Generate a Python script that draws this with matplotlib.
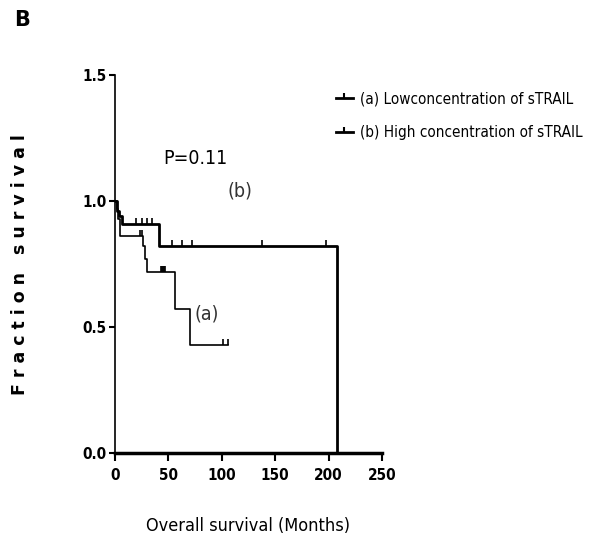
import matplotlib
matplotlib.use("Agg")
import matplotlib.pyplot as plt
from matplotlib.path import Path
from matplotlib.markers import MarkerStyle
from matplotlib.lines import Line2D
from matplotlib.legend_handler import HandlerTuple
from matplotlib import font_manager
from matplotlib.font_manager import FontProperties

# Kaplan-Meier step data (months, survival fraction)
a_times = [0, 2, 3, 5, 26.5, 28, 30, 56, 70, 106]
a_surv = [1.0, 0.97, 0.93, 0.86, 0.82, 0.77, 0.72, 0.57, 0.43, 0.43]
a_censor_t = [23, 25, 43, 44, 45, 46, 47, 101, 106]
a_censor_s = [0.86, 0.86, 0.72, 0.72, 0.72, 0.72, 0.72, 0.43, 0.43]

b_times = [0, 2, 4, 7, 41, 208, 208]
b_surv = [1.0, 0.96, 0.94, 0.91, 0.82, 0.82, 0.0]
b_censor_t = [20, 25, 30, 34.5, 53, 62.5, 72, 138, 198]
b_censor_s = [0.91, 0.91, 0.91, 0.91, 0.82, 0.82, 0.82, 0.82, 0.82]

labels = ["(a) Lowconcentration of sTRAIL", "(b) High concentration of sTRAIL"]
xticks = [0, 50, 100, 150, 200, 250]
yticks = [0.0, 0.5, 1.0, 1.5]

# find a condensed / narrow font if one is installed
reg_file, bold_file = None, None
for f in font_manager.fontManager.ttflist:
    nm = f.name + " " + str(f.fname)
    cond = ("Narrow" in nm) or ("Condensed" in nm) or (str(f.stretch) in ("condensed", "semi-condensed", "extra-condensed"))
    if cond and f.style == "normal":
        w = f.weight if isinstance(f.weight, int) else (700 if "bold" in str(f.weight) else 400)
        if w >= 600 and bold_file is None:
            bold_file = f.fname
        elif w < 600 and reg_file is None:
            reg_file = f.fname


def fp(size, bold=False):
    fn = bold_file if (bold and bold_file) else reg_file
    if fn:
        return FontProperties(fname=fn, size=size)
    return FontProperties(family="DejaVu Sans", stretch="condensed", size=size,
                          weight="bold" if bold else "normal")


tick_up = MarkerStyle(Path([(0, 0), (0, 1)], [Path.MOVETO, Path.LINETO]))

fig = plt.figure(figsize=(5.97, 5.5), dpi=100)
ax = fig.add_axes([115/597, 1-453/550, 267/597, 378/550])

ax.step(a_times, a_surv, where="post", color="black", lw=1.2)
ax.step(b_times, b_surv, where="post", color="black", lw=2.0)
ax.plot(a_censor_t, a_censor_s, ls="none", marker=tick_up, ms=9, mew=1.2, color="black")
ax.plot(b_censor_t, b_censor_s, ls="none", marker=tick_up, ms=9, mew=1.2, color="black")

ax.set_xlim(0, 250)
ax.set_ylim(0, 1.5)
ax.set_xticks(xticks)
ax.set_yticks(yticks)
ax.set_xticklabels([str(t) for t in xticks], fontproperties=fp(11, True))
ax.set_yticklabels([f"{t:.1f}" for t in yticks], fontproperties=fp(11, True))
ax.tick_params(axis="x", length=6, width=1.5, pad=5)
ax.tick_params(axis="y", length=4, width=1.5, pad=2)
for s in ["top", "right"]:
    ax.spines[s].set_visible(False)
ax.spines["bottom"].set_linewidth(2.5)
ax.spines["left"].set_linewidth(1.2)
ax.patch.set_visible(False)

ax.set_xlabel("Overall survival (Months)", fontproperties=fp(13), labelpad=24)
fig.text(20/597, 1-265/550, "F r a c t i o n   s u r v i v a l", rotation=90, fontweight="bold",
         fontsize=12.5, ha="center", va="center", family="DejaVu Sans")

ax.text(75, 1.17, "P=0.11", fontproperties=fp(14), ha="center", va="center")
ax.text(117, 1.04, "(b)", fontproperties=fp(14), ha="center", va="center", color="#333333")
ax.text(86, 0.55, "(a)", fontproperties=fp(14), ha="center", va="center", color="#333333")

fig.text(22/597, 1-20/550, "B", fontsize=15, fontweight="bold", ha="center", va="center")

h1 = (Line2D([], [], color="black", lw=2.0),
      Line2D([], [], ls="none", marker=tick_up, ms=7, mew=1.5, color="black"))
h2 = (Line2D([], [], color="black", lw=2.0),
      Line2D([], [], ls="none", marker=tick_up, ms=7, mew=1.5, color="black"))
fig.legend([h1, h2], labels, handler_map={tuple: HandlerTuple(ndivide=1)},
           loc="upper left", bbox_to_anchor=(322/597, 1-78/550), frameon=False,
           prop=fp(11), handlelength=1.1, handletextpad=0.5,
           labelspacing=1.2)

fig.savefig("out.png", dpi=100)
